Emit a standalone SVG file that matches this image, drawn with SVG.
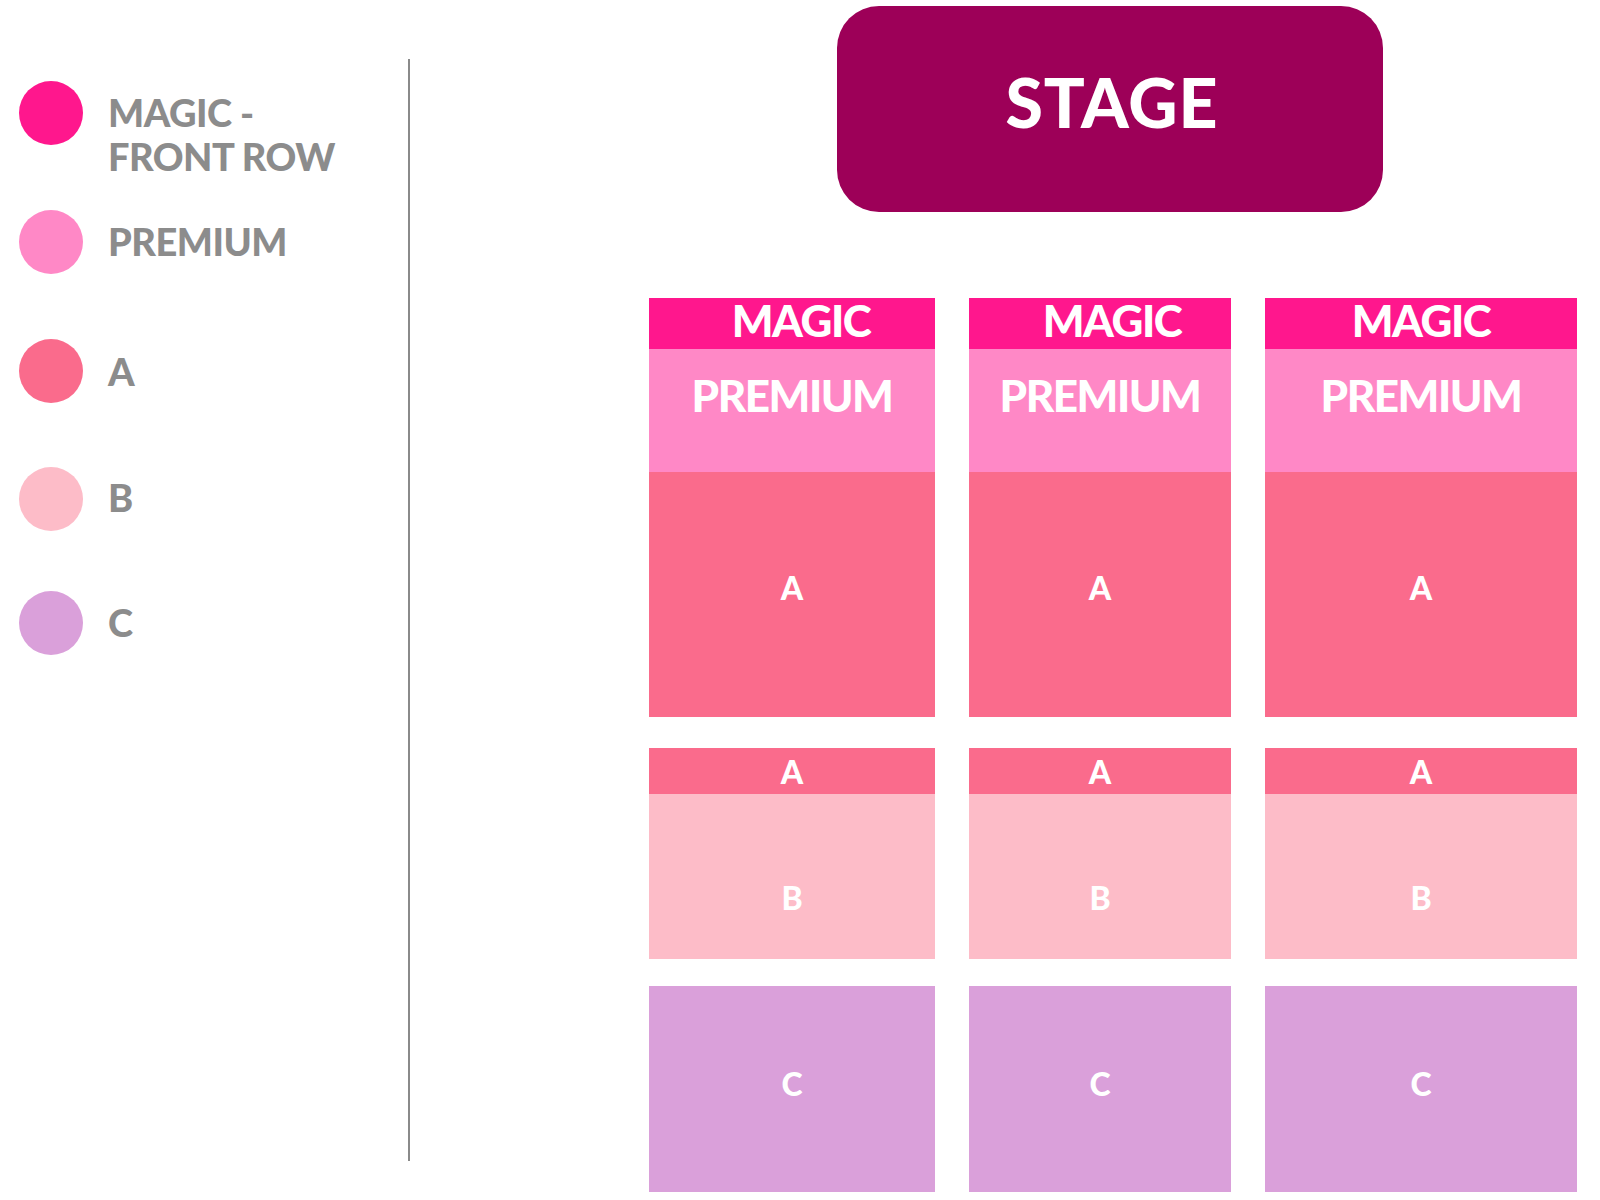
<svg xmlns="http://www.w3.org/2000/svg" width="1600" height="1200" viewBox="0 0 1600 1200">
<style>
.lg{font-family:Lato,"Open Sans","Liberation Sans",sans-serif;font-weight:900;font-size:38px;letter-spacing:-0.5px;fill:#8c8c8c}
.bt{font-family:Lato,"Open Sans","Liberation Sans",sans-serif;font-weight:900;fill:#ffffff;text-anchor:middle}
.big{font-size:44px;letter-spacing:-1.5px}
.sm{font-size:32px}
.magic{fill:#ff178d}
.prem{fill:#ff88c6}
.a{fill:#fa6b8c}
.b{fill:#fdbcc8}
.c{fill:#daa0da}
</style>
<rect width="1600" height="1200" fill="#ffffff"/>
<g id="legend">
<g id="legend-magic"><ellipse class="magic" cx="51" cy="113" rx="32" ry="32"/><text class="lg" x="108" y="127">MAGIC -</text><text class="lg" x="108" y="171">FRONT ROW</text></g>
<g id="legend-premium"><ellipse class="prem" cx="51" cy="242" rx="32" ry="32"/><text class="lg" x="108" y="256">PREMIUM</text></g>
<g id="legend-a"><ellipse class="a" cx="51" cy="371" rx="32" ry="32"/><text class="lg" x="108" y="386">A</text></g>
<g id="legend-b"><ellipse class="b" cx="51" cy="499" rx="32" ry="32"/><text class="lg" x="108" y="512">B</text></g>
<g id="legend-c"><ellipse class="c" cx="51" cy="623" rx="32" ry="32"/><text class="lg" x="108" y="637">C</text></g>
</g>
<line x1="409" y1="59" x2="409" y2="1161" stroke="#8a8a8a" stroke-width="2"/>
<g id="stage"><rect x="837" y="6" width="546" height="206" rx="42" fill="#9d0058"/><text class="bt" x="1112" y="128" font-size="68" letter-spacing="1">STAGE</text></g>
<g id="col1">
<rect class="magic" x="649" y="298" width="286" height="51"/><text class="bt big" x="801" y="337">MAGIC</text>
<rect class="prem" x="649" y="349" width="286" height="123"/><text class="bt big" x="792" y="412">PREMIUM</text>
<rect class="a" x="649" y="472" width="286" height="245"/><text class="bt sm" x="792" y="600">A</text>
<rect class="a" x="649" y="748" width="286" height="46"/><text class="bt sm" x="792" y="784">A</text>
<rect class="b" x="649" y="794" width="286" height="165"/><text class="bt sm" x="792" y="910">B</text>
<rect class="c" x="649" y="986" width="286" height="206"/><text class="bt sm" x="792" y="1096">C</text>
</g>
<g id="col2">
<rect class="magic" x="969" y="298" width="262" height="51"/><text class="bt big" x="1112" y="337">MAGIC</text>
<rect class="prem" x="969" y="349" width="262" height="123"/><text class="bt big" x="1100" y="412">PREMIUM</text>
<rect class="a" x="969" y="472" width="262" height="245"/><text class="bt sm" x="1100" y="600">A</text>
<rect class="a" x="969" y="748" width="262" height="46"/><text class="bt sm" x="1100" y="784">A</text>
<rect class="b" x="969" y="794" width="262" height="165"/><text class="bt sm" x="1100" y="910">B</text>
<rect class="c" x="969" y="986" width="262" height="206"/><text class="bt sm" x="1100" y="1096">C</text>
</g>
<g id="col3">
<rect class="magic" x="1265" y="298" width="312" height="51"/><text class="bt big" x="1421" y="337">MAGIC</text>
<rect class="prem" x="1265" y="349" width="312" height="123"/><text class="bt big" x="1421" y="412">PREMIUM</text>
<rect class="a" x="1265" y="472" width="312" height="245"/><text class="bt sm" x="1421" y="600">A</text>
<rect class="a" x="1265" y="748" width="312" height="46"/><text class="bt sm" x="1421" y="784">A</text>
<rect class="b" x="1265" y="794" width="312" height="165"/><text class="bt sm" x="1421" y="910">B</text>
<rect class="c" x="1265" y="986" width="312" height="206"/><text class="bt sm" x="1421" y="1096">C</text>
</g>
<g id="connectors"/>
</svg>
